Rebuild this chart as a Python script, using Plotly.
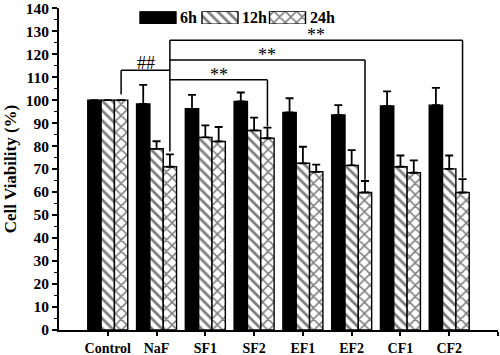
import plotly.graph_objects as go

groups = ["Control", "NaF", "SF1", "SF2", "EF1", "EF2", "CF1", "CF2"]
series_names = ["6h", "12h", "24h"]
v6 = [100, 98.3, 96.2, 99.4, 94.6, 93.5, 97.4, 97.8]
e6 = [0, 8.3, 6.1, 3.9, 6.2, 4.3, 6.4, 7.5]
v12 = [100, 78.8, 83.8, 86.8, 72.5, 71.6, 71.0, 70.1]
e12 = [0, 3.3, 5.2, 5.6, 7.2, 6.6, 4.9, 5.8]
v24 = [100, 71.0, 82.0, 83.4, 68.8, 59.8, 68.4, 59.8]
e24 = [0, 5.4, 6.3, 4.6, 3.1, 5.0, 5.4, 5.8]

# significance brackets: (from group, to group, bracket level, label)
brackets = [
    ("Control", "NaF", 113.0, "##"),
    ("NaF", "SF2", 108.8, "**"),
    ("NaF", "EF2", 117.4, "**"),
    ("NaF", "CF2", 126.0, "**"),
]

FONT = "Liberation Serif"
bargap = 0.18
off = (1 - bargap) / 3
xpos = [i + 1 for i in range(len(groups))]

fig = go.Figure()
styles = [
    dict(color="black"),
    dict(color="white", pattern=dict(shape="\\", fgcolor="black", bgcolor="white", size=7, solidity=0.4)),
    dict(color="white", pattern=dict(shape="x", fgcolor="black", bgcolor="white", size=8, solidity=0.35)),
]
for name, vals, errs, st in zip(series_names, [v6, v12, v24], [e6, e12, e24], styles):
    fig.add_trace(go.Bar(
        x=xpos, y=vals, name=name,
        marker=dict(line=dict(color="black", width=1.4), **st),
        error_y=dict(type="data", array=errs, arrayminus=[0] * len(errs), symmetric=False,
                     color="black", thickness=1.8, width=4),
        showlegend=False,
    ))

# custom legend on an overlay axis
leg_x = [99, 161, 228.5]
for name, st, lx in zip(series_names, styles, leg_x):
    fig.add_trace(go.Bar(
        x=[lx], y=[1], width=[36], xaxis="x2", yaxis="y2",
        marker=dict(line=dict(color="black", width=1.4), **st),
        showlegend=False, hoverinfo="skip",
    ))
    fig.add_annotation(x=lx + 20, y=0.5, xref="x2", yref="y2", text=name, showarrow=False,
                       xanchor="left", yanchor="middle",
                       font=dict(family=FONT, size=16, color="black", weight="bold"))

# brackets
vals24 = dict(zip(groups, v24))
errs24 = dict(zip(groups, e24))
def xs24(g):
    return groups.index(g) + 1 + off
def top24(g):
    return vals24[g] + errs24[g]

line = dict(color="black", width=1.5)
hub = "NaF"
max_level = max(b[2] for b in brackets)
fig.add_shape(type="line", x0=xs24(hub), x1=xs24(hub), y0=top24(hub) + 1.2, y1=max_level, line=line)
for g0, g1, lvl, lab in brackets:
    if g1 == hub:
        fig.add_shape(type="line", x0=xs24(g0), x1=xs24(g0), y0=top24(g0) + 2.4, y1=lvl, line=line)
        fig.add_shape(type="line", x0=xs24(g0), x1=xs24(hub), y0=lvl, y1=lvl, line=line)
        xa, xb = xs24(g0), xs24(hub)
    else:
        fig.add_shape(type="line", x0=xs24(g0), x1=xs24(g1), y0=lvl, y1=lvl, line=line)
        fig.add_shape(type="line", x0=xs24(g1), x1=xs24(g1), y0=top24(g1) + 0.6, y1=lvl, line=line)
        xa, xb = xs24(g0), xs24(g1)
    fig.add_annotation(x=(xa + xb) / 2, y=lvl, text=lab, showarrow=False, yanchor="bottom",
                       yshift=-7 if lab == "**" else -5,
                       font=dict(family=FONT, size=18, color="black", weight="normal"))

fig.update_layout(
    width=500, height=355,
    margin=dict(l=59, r=2, t=8, b=25, autoexpand=False),
    paper_bgcolor="white", plot_bgcolor="white",
    barmode="group", bargap=bargap, bargroupgap=0,
    font=dict(family=FONT, size=14, color="black", weight="bold"),
    xaxis=dict(range=[0, 9], tickvals=xpos + [9], ticktext=groups + [""], automargin=False,
               ticklabeloverflow="allow",
               showline=True, linecolor="black", linewidth=2, ticks="outside", ticklen=4,
               tickwidth=1.5, tickcolor="black", showgrid=False, zeroline=False,
               tickfont=dict(family=FONT, size=14, color="black", weight="bold")),
    yaxis=dict(range=[0, 140.05], tickvals=list(range(0, 141, 10)), automargin=False,
               ticklabeloverflow="allow",
               showline=True, linecolor="black", linewidth=2,
               ticks="outside", ticklen=5, tickwidth=1.5, tickcolor="black",
               minor=dict(dtick=5, ticks="outside", ticklen=3, tickwidth=1.2, tickcolor="black"),
               showgrid=False, zeroline=False,
               tickfont=dict(family=FONT, size=15.5, color="black", weight="bold"),
               title=dict(text="Cell Viability (%)", standoff=5,
                          font=dict(family=FONT, size=17, color="black", weight="bold"))),
    xaxis2=dict(domain=[0, 1], range=[0, 439], visible=False, anchor="y2", overlaying="x"),
    yaxis2=dict(domain=[0.95, 0.99], range=[0, 1], visible=False, anchor="x2"),
)

fig.write_html("out.html", config={"displayModeBar": False},
               post_script="document.body.style.margin='0';document.body.style.padding='0';")
